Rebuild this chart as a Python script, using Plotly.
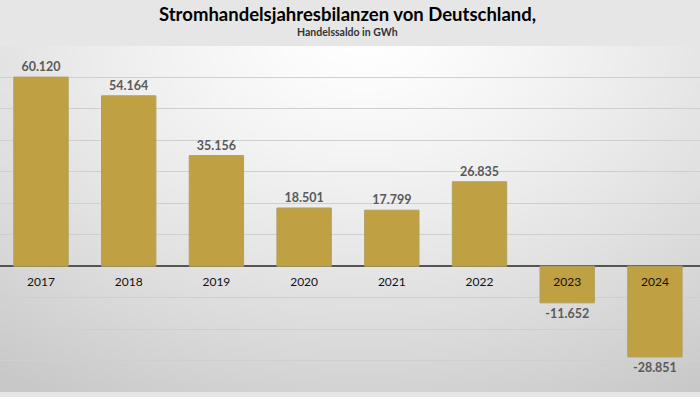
import base64, struct, zlib, math
import plotly.graph_objects as go

# ---------------- data ----------------
years = ["2017", "2018", "2019", "2020", "2021", "2022", "2023", "2024"]
saldo_gwh = [60120, 54164, 35156, 18501, 17799, 26835, -11652, -28851]
value_labels = ["60.120", "54.164", "35.156", "18.501", "17.799", "26.835", "-11.652", "-28.851"]

title_text = "Stromhandelsjahresbilanzen von Deutschland,"
subtitle_text = "Handelssaldo in GWh"

# ---------------- styling ----------------
Y_MIN, Y_MAX, Y_STEP = -40000, 70000, 10000
BAR_COLOR = "#BFA043"
BAR_LINE = "#B0A060"
FONT = "Lato"

# background radial gradient generated as small PNG
def gradient_png(w=140, h=80):
    rows = b""
    for j in range(h):
        row = bytearray([0])
        for i in range(w):
            x = i / (w - 1)
            y = j / (h - 1)
            d = math.sqrt(((x - 0.52) / 0.75) ** 2 + ((y + 0.05) / 1.05) ** 2)
            d = min(d, 1.3)
            v = int(round(255 - 44 * d ** 1.3))
            v = max(200, min(255, v))
            row += bytes([v, v, v])
        rows += bytes(row)
    def chunk(t, data):
        c = struct.pack(">I", len(data)) + t + data
        return c + struct.pack(">I", zlib.crc32(t + data) & 0xFFFFFFFF)
    png = b"\x89PNG\r\n\x1a\n"
    png += chunk(b"IHDR", struct.pack(">IIBBBBB", w, h, 8, 2, 0, 0, 0))
    png += chunk(b"IDAT", zlib.compress(rows, 9))
    png += chunk(b"IEND", b"")
    return "data:image/png;base64," + base64.b64encode(png).decode()

fig = go.Figure()
fig.add_trace(go.Bar(
    x=years, y=saldo_gwh,
    text=value_labels, textposition="outside",
    textfont=dict(family=FONT, size=12.5, color="#5a5a5a", weight="bold"),
    marker=dict(color=BAR_COLOR, line=dict(color=BAR_LINE, width=1)),
    cliponaxis=False, width=0.62,
    hoverinfo="skip",
))

zero_pos = (0 - Y_MIN) / (Y_MAX - Y_MIN)

fig.update_layout(
    width=700, height=397,
    margin=dict(l=0, r=0, t=46, b=5),
    paper_bgcolor="#e6e6e6",
    plot_bgcolor="rgba(0,0,0,0)",
    showlegend=False,
    font=dict(family=FONT),
    images=[dict(source=gradient_png(), xref="paper", yref="paper",
                 x=0, y=1, sizex=1, sizey=1, sizing="stretch",
                 xanchor="left", yanchor="top", layer="below")],
    xaxis=dict(
        range=[-0.4675, 7.514], anchor="free", position=zero_pos,
        showgrid=False, showline=False, zeroline=False, ticks="",
        tickfont=dict(family=FONT, size=12, color="#111111"),
        ticklabelstandoff=7,
    ),
    yaxis=dict(
        range=[Y_MIN, Y_MAX], dtick=Y_STEP, tick0=0,
        showticklabels=False, showgrid=True, gridcolor="#cfcfcf", gridwidth=1,
        zeroline=True, zerolinecolor="#555555", zerolinewidth=1.5,
    ),
    annotations=[
        dict(text=title_text, xref="paper", yref="paper", x=0.496, y=1,
             showarrow=False, xanchor="center", yanchor="middle",
             yshift=46 - 14, font=dict(family=FONT, size=18.5, color="#000000", weight="bold")),
        dict(text=subtitle_text, xref="paper", yref="paper", x=0.496, y=1,
             showarrow=False, xanchor="center", yanchor="middle",
             yshift=46 - 32, font=dict(family=FONT, size=10.5, color="#333333", weight="bold")),
    ],
)

fig.write_html("out.html", config={"displayModeBar": False},
               post_script="document.body.style.margin='0px';document.body.style.overflow='hidden';")
